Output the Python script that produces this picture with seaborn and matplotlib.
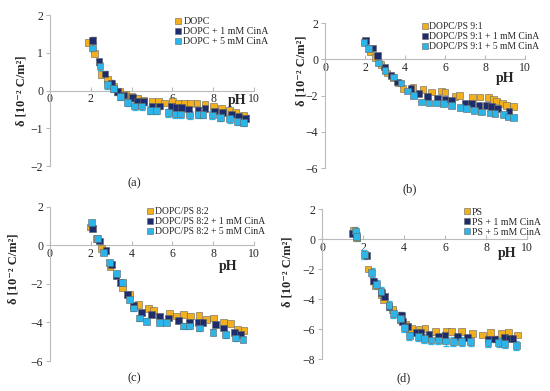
import matplotlib
matplotlib.use('Agg')
import matplotlib.pyplot as plt
import seaborn as sns
import pandas as pd

# colours of the three series in every panel
colors = ['#F2B01E', '#1C2C6C', '#2BB5E8']

# (a) DOPC
a_labels = ['DOPC', 'DOPC + 1 mM CinA', 'DOPC + 5 mM CinA']
a0_x = [1.9, 2.2, 2.5, 2.8, 3.1, 3.4, 3.7, 4.0, 4.3, 4.6, 5.0, 5.3, 5.6, 6.0, 6.3, 6.6, 6.9, 7.2, 7.6, 8.0, 8.4, 8.8, 9.1, 9.5]
a0_y = [1.28, 0.98, 0.42, 0.30, 0.10, -0.02, -0.10, -0.15, -0.20, -0.25, -0.30, -0.30, -0.33, -0.30, -0.33, -0.33, -0.35, -0.33, -0.36, -0.43, -0.47, -0.52, -0.59, -0.65]
a1_x = [2.1, 2.4, 2.7, 3.0, 3.3, 3.6, 4.05, 4.3, 4.6, 5.0, 5.35, 5.95, 6.2, 6.45, 6.8, 7.25, 7.6, 8.05, 8.45, 8.9, 9.25, 9.6]
a1_y = [1.33, 0.76, 0.44, 0.19, -0.03, -0.12, -0.19, -0.30, -0.30, -0.41, -0.41, -0.43, -0.45, -0.45, -0.49, -0.52, -0.47, -0.54, -0.58, -0.62, -0.69, -0.74]
a2_x = [2.1, 2.45, 2.8, 3.1, 3.45, 3.8, 4.15, 4.5, 4.9, 5.2, 5.8, 6.15, 6.4, 6.85, 7.25, 7.5, 7.95, 8.35, 8.8, 9.2, 9.5]
a2_y = [1.13, 0.65, 0.15, 0.06, -0.15, -0.32, -0.41, -0.41, -0.52, -0.52, -0.59, -0.62, -0.62, -0.65, -0.63, -0.63, -0.65, -0.71, -0.75, -0.82, -0.85]
a_err = [0.06, 0.08, 0.1]

# (b) DOPC/PS 9:1
b_labels = ['DOPC/PS 9:1', 'DOPC/PS 9:1 + 1 mM CinA', 'DOPC/PS 9:1 + 5 mM CinA']
b0_x = [2.0, 2.25, 2.5, 2.8, 3.1, 3.4, 3.65, 3.9, 4.4, 4.9, 5.33, 5.83, 6.0, 6.5, 6.72, 7.38, 7.75, 8.17, 8.42, 8.58, 8.88, 9.08, 9.42]
b0_y = [1.0, 0.4, 0.1, -0.3, -0.75, -1.0, -1.3, -1.62, -1.56, -1.67, -1.8, -1.75, -1.8, -2.04, -2.0, -2.1, -2.08, -2.1, -2.2, -2.3, -2.44, -2.54, -2.6]
b1_x = [2.03, 2.37, 2.63, 2.97, 3.3, 3.63, 4.3, 4.7, 5.13, 5.63, 6.0, 6.33, 7.0, 7.33, 7.7, 8.08, 8.33, 8.63, 9.2]
b1_y = [1.05, 0.62, 0.2, -0.42, -0.88, -1.25, -1.62, -1.89, -2.04, -2.13, -2.19, -2.26, -2.41, -2.44, -2.54, -2.54, -2.6, -2.72, -2.85]
b2_x = [1.95, 2.17, 2.67, 3.0, 3.42, 3.8, 4.13, 4.42, 4.83, 5.2, 5.58, 5.92, 6.33, 6.75, 7.08, 7.47, 7.83, 8.25, 8.5, 8.92, 9.17, 9.42]
b2_y = [0.94, 0.59, -0.2, -0.6, -0.97, -1.3, -1.75, -1.98, -2.35, -2.41, -2.41, -2.44, -2.54, -2.67, -2.72, -2.81, -2.9, -2.96, -3.0, -3.03, -3.18, -3.22]
b_err = [0.08, 0.1, 0.12]

# (c) DOPC/PS 8:2
c_labels = ['DOPC/PS 8:2', 'DOPC/PS 8:2 + 1 mM CinA', 'DOPC/PS 8:2 + 5 mM CinA']
c0_x = [1.96, 2.28, 2.53, 2.94, 3.56, 3.92, 4.32, 4.81, 5.09, 5.84, 6.2, 6.53, 6.88, 7.3, 7.67, 8.03, 8.52, 8.84, 9.17, 9.51]
c0_y = [0.96, 0.35, -0.16, -1.12, -2.2, -2.55, -3.07, -3.28, -3.37, -3.54, -3.66, -3.59, -3.66, -3.63, -3.84, -3.77, -3.97, -4.06, -4.36, -4.41]
c1_x = [2.09, 2.41, 2.74, 3.02, 3.23, 3.43, 3.78, 4.11, 4.49, 4.98, 5.38, 5.79, 6.28, 6.82, 7.26, 7.5, 8.12, 8.52, 9.05, 9.33]
c1_y = [0.87, 0.23, -0.25, -0.98, -1.59, -1.93, -2.54, -3.1, -3.49, -3.6, -3.66, -3.77, -3.89, -3.98, -3.98, -4.01, -4.11, -4.29, -4.53, -4.63]
c2_x = [2.04, 2.32, 2.64, 2.9, 3.26, 3.56, 3.88, 4.08, 4.37, 4.73, 5.38, 5.71, 6.53, 6.82, 7.31, 7.99, 8.61, 9.1, 9.46]
c2_y = [1.19, 0.35, -0.37, -0.89, -1.46, -1.93, -2.8, -3.25, -3.77, -3.94, -4.0, -3.98, -4.18, -4.18, -4.29, -4.5, -4.63, -4.81, -4.88]
c_err = [0.12, 0.12, 0.15]

# (d) PS
d_labels = ['PS', 'PS + 1 mM CinA', 'PS + 5 mM CinA']
d0_x = [1.55, 1.69, 2.24, 2.59, 2.92, 3.0, 3.44, 3.81, 4.08, 4.38, 4.73, 5.02, 5.54, 6.08, 6.32, 6.81, 7.33, 7.81, 8.23, 8.75, 9.08, 9.53]
d0_y = [0.6, 0.1, -2.0, -3.11, -3.73, -4.07, -4.69, -5.4, -5.69, -5.96, -6.0, -5.96, -6.18, -6.13, -6.18, -6.18, -6.29, -6.4, -6.22, -6.29, -6.22, -6.4]
d1_x = [1.49, 2.19, 2.51, 2.89, 3.05, 3.27, 3.86, 3.92, 4.18, 4.62, 4.83, 5.22, 5.67, 6.0, 6.61, 7.1, 8.1, 8.43, 8.92, 9.16, 9.32]
d1_y = [0.38, -1.11, -2.8, -3.56, -3.84, -4.51, -5.07, -5.51, -5.84, -6.22, -6.22, -6.36, -6.51, -6.4, -6.51, -6.58, -6.67, -6.67, -6.58, -6.62, -6.62]
d2_x = [1.62, 1.69, 2.07, 2.43, 2.67, 2.88, 3.27, 3.48, 3.81, 4.02, 4.25, 4.7, 4.99, 5.32, 5.67, 6.03, 6.4, 6.81, 7.26, 8.1, 8.62, 8.91, 9.48]
d2_y = [0.53, 0.15, -1.02, -2.22, -3.02, -3.51, -4.44, -4.96, -5.29, -5.91, -6.44, -6.51, -6.62, -6.73, -6.73, -6.8, -6.84, -6.84, -6.84, -6.89, -6.89, -6.96, -7.11]
d_err = [0.15, 0.18, 0.3]

sns.set_theme(style='white')
plt.rcParams['font.family'] = ['Liberation Serif', 'DejaVu Serif']

fig = plt.figure(figsize=(5.5, 3.91), dpi=100)

# rect, ylim, yticks, ylabel pos, pH label pos, legend anchor / size, panel letter pos
panels = [
    dict(tag='(a)', labels=a_labels, xs=[a0_x, a1_x, a2_x], ys=[a0_y, a1_y, a2_y], err=a_err,
         rect=[0.0909, 0.5754, 0.371, 0.386], ylim=(-2, 2), yticks=[-2, -1, 0, 1, 2],
         ylab=(-0.11, 0.50), ph=(0.917, 0.48), leg=(0.585, 1.02), lfs=7.2, letter=(0.245, 0.532)),
    dict(tag='(b)', labels=b_labels, xs=[b0_x, b1_x, b2_x], ys=[b0_y, b1_y, b2_y], err=b_err,
         rect=[0.591, 0.570, 0.3636, 0.371], ylim=(-6, 2), yticks=[-6, -4, -2, 0, 2],
         ylab=(-0.09, 0.67), ph=(0.90, 0.66), leg=(0.455, 1.04), lfs=6.9, letter=(0.745, 0.517)),
    dict(tag='(c)', labels=c_labels, xs=[c0_x, c1_x, c2_x], ys=[c0_y, c1_y, c2_y], err=c_err,
         rect=[0.0909, 0.0767, 0.371, 0.394], ylim=(-6, 2), yticks=[-6, -4, -2, 0, 2],
         ylab=(-0.15, 0.60), ph=(0.873, 0.655), leg=(0.45, 1.03), lfs=6.9, letter=(0.244, 0.033)),
    dict(tag='(d)', labels=d_labels, xs=[d0_x, d1_x, d2_x], ys=[d0_y, d1_y, d2_y], err=d_err,
         rect=[0.5855, 0.0818, 0.3727, 0.3836], ylim=(-8, 2), yticks=[-8, -6, -4, -2, 0, 2],
         ylab=(-0.14, 0.58), ph=(0.902, 0.75), leg=(0.665, 1.04), lfs=7.0, letter=(0.733, 0.033)),
]

for p in panels:
    ax = fig.add_axes(p['rect'])
    frames = []
    for lab, x, y in zip(p['labels'], p['xs'], p['ys']):
        frames.append(pd.DataFrame({'pH': x, 'delta': y, 'series': lab}))
    df = pd.concat(frames, ignore_index=True)

    for lab, col, e in zip(p['labels'], colors, p['err']):
        sub = df[df['series'] == lab]
        ax.errorbar(sub['pH'], sub['delta'], yerr=e, fmt='none', ecolor=col,
                    elinewidth=0.9, capsize=2, capthick=0.9, zorder=2)
    sns.scatterplot(data=df, x='pH', y='delta', hue='series', hue_order=p['labels'],
                    palette=colors, marker='s', s=24, linewidth=0.4,
                    edgecolor='#666666', ax=ax, zorder=3)

    ax.set_xlim(0, 10)
    ax.set_ylim(*p['ylim'])
    ax.set_xticks([0, 2, 4, 6, 8, 10])
    ax.set_yticks(p['yticks'])
    ax.spines['bottom'].set_position(('data', 0))
    ax.spines['top'].set_visible(False)
    ax.spines['right'].set_visible(False)
    for s in ['bottom', 'left']:
        ax.spines[s].set_color('#BBBBBB')
        ax.spines[s].set_linewidth(0.8)
    ax.tick_params(axis='x', direction='in', length=3, width=0.8, color='#BBBBBB',
                   labelsize=8.5, pad=2, bottom=True)
    ax.tick_params(axis='y', direction='out', length=3, width=0.8, color='#BBBBBB',
                   labelsize=8.5, pad=2, left=True)

    ax.set_ylabel('δ [10⁻² C/m²]', fontsize=9, fontweight='bold')
    ax.yaxis.set_label_coords(*p['ylab'])
    ax.set_xlabel('pH', fontsize=10, fontweight='bold')
    ax.xaxis.set_label_coords(*p['ph'])

    handles, labels = ax.get_legend_handles_labels()
    ax.legend(handles, labels, loc='upper left', bbox_to_anchor=p['leg'], frameon=False,
              fontsize=p['lfs'], handletextpad=0.1, handlelength=0.8, labelspacing=0.1,
              borderpad=0, markerscale=1.0)

    fig.text(p['letter'][0], p['letter'][1], p['tag'], ha='center', va='center', fontsize=9)

fig.savefig('out.png', dpi=100)
